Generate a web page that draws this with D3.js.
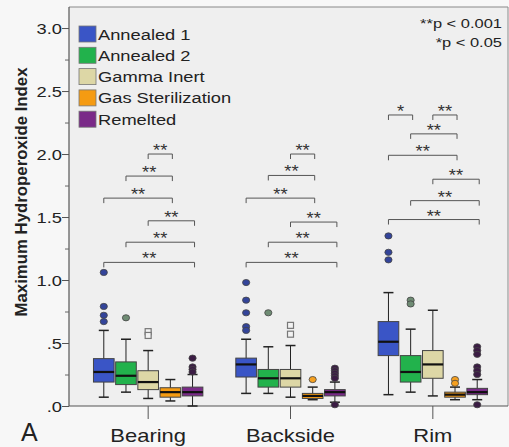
<!DOCTYPE html>
<html><head><meta charset="utf-8">
<script src="https://cdn.jsdelivr.net/npm/d3@7"></script>
<style>
html,body{margin:0;padding:0;background:#f7f7f7;}
svg{display:block;font-family:"Liberation Sans",Arial,sans-serif;}
</style></head>
<body>
<svg id="chart" width="509" height="447"></svg>
<script>
// ---- data ----
const categories = ["Bearing", "Backside", "Rim"];
const seriesNames = ["Annealed 1", "Annealed 2", "Gamma Inert", "Gas Sterilization", "Remelted"];
const seriesColors = ["#3a55c6", "#22b24c", "#ddd7a6", "#f59b12", "#7a2a88"];
const outlierFills = ["#33449a", "#6f8c74", "#eeeeee", "#f5a020", "#3b1c44"];
// stats per category: [whiskerLow, q1, median, q3, whiskerHigh]
const annealed1 = [[0.07, 0.19, 0.27, 0.376, 0.60], [0.10, 0.23, 0.33, 0.38, 0.53], [0.09, 0.40, 0.51, 0.67, 0.90]];
const annealed2 = [[0.11, 0.17, 0.24, 0.35, 0.53], [0.10, 0.15, 0.22, 0.29, 0.47], [0.11, 0.19, 0.27, 0.40, 0.61]];
const gammaInert = [[0.06, 0.13, 0.19, 0.28, 0.44], [0.07, 0.15, 0.22, 0.29, 0.48], [0.08, 0.22, 0.33, 0.44, 0.76]];
const gasSterilization = [[0.04, 0.07, 0.11, 0.145, 0.21], [0.05, 0.06, 0.08, 0.10, 0.15], [0.05, 0.07, 0.09, 0.11, 0.15]];
const remelted = [[0.0, 0.08, 0.11, 0.15, 0.25], [0.03, 0.08, 0.11, 0.13, 0.19], [0.05, 0.09, 0.11, 0.14, 0.21]];
// outliers per category
const annealed1Out = [[1.06, 0.79, 0.72, 0.67], [0.98, 0.84, 0.74, 0.63, 0.60], [1.35, 1.22, 1.16]];
const annealed2Out = [[0.70], [0.74], [0.84, 0.81]];
const gammaInertOut = [[0.59, 0.56], [0.64, 0.57], []];
const gasSterilizationOut = [[], [0.21], [0.21, 0.18]];
const remeltedOut = [[0.38, 0.31, 0.29, 0.27], [0.30, 0.28, 0.26, 0.24, 0.22, 0.01], [0.47, 0.44, 0.41, 0.31, 0.28, 0.25, 0.01]];
// significance brackets: [category, fromSeries, toSeries, level, label]
const bracketsBearing = [[0, 2, 3, 2.00, "**"], [0, 1, 3, 1.825, "**"], [0, 0, 3, 1.65, "**"], [0, 2, 4, 1.47, "**"], [0, 1, 4, 1.30, "**"], [0, 0, 4, 1.14, "**"]];
const bracketsBackside = [[1, 2, 3, 2.00, "**"], [1, 1, 3, 1.83, "**"], [1, 0, 3, 1.65, "**"], [1, 2, 4, 1.46, "**"], [1, 1, 4, 1.30, "**"], [1, 0, 4, 1.14, "**"]];
const bracketsRim = [[2, 0, 1, 2.31, "*"], [2, 2, 3, 2.31, "**"], [2, 1, 3, 2.16, "**"], [2, 0, 3, 1.99, "**"], [2, 2, 4, 1.80, "**"], [2, 1, 4, 1.63, "**"], [2, 0, 4, 1.48, "**"]];
const yTickValues = [0, 0.5, 1.0, 1.5, 2.0, 2.5, 3.0];
const yTickLabels = [".0", ".5", "1.0", "1.5", "2.0", "2.5", "3.0"];
const yMinorTicks = [0.25, 0.75, 1.25, 1.75, 2.25, 2.75];
const yTitle = "Maximum Hydroperoxide Index";
const noteLines = ["**p <  0.001", "*p < 0.05"];
const panelLetter = "A";

const stats = [annealed1, annealed2, gammaInert, gasSterilization, remelted];
const outs = [annealed1Out, annealed2Out, gammaInertOut, gasSterilizationOut, remeltedOut];
const brackets = bracketsBearing.concat(bracketsBackside, bracketsRim);

// ---- layout ----
const svg = d3.select("#chart");
const plotL = 69, plotR = 508, plotT = 7, plotB = 406;
const SX = 1.22; // horizontal text stretch of the reference

const y = d3.scaleLinear().domain([0, 3.167]).range([plotB, plotT]);
const x = d3.scaleBand().domain(categories).range([77, 504]).padding(0);
const xs = d3.scaleBand().domain(d3.range(seriesNames.length)).range([-56.25, 56.25]).padding(0.07);
const cx = (ci, si) => x(categories[ci]) + x.bandwidth() / 2 + xs(si) + xs.bandwidth() / 2;

function stext(g, tx, ty, str, size, anchor, opts = {}) {
  return g.append("text")
    .attr("transform", `translate(${tx},${ty}) scale(${opts.sx || SX},1)`)
    .attr("text-anchor", anchor)
    .attr("font-size", size)
    .attr("font-weight", opts.weight || "normal")
    .attr("fill", opts.fill || "#222")
    .text(str);
}

// plot background
svg.append("rect").attr("x", plotL).attr("y", plotT).attr("width", plotR - plotL).attr("height", plotB - plotT)
  .attr("fill", "#efefef");
svg.append("line").attr("x1", plotL).attr("x2", plotR).attr("y1", plotT).attr("y2", plotT)
  .attr("stroke", "#8a8a8a").attr("stroke-width", 1.2);
svg.append("line").attr("x1", plotR).attr("x2", plotR).attr("y1", plotT).attr("y2", plotB)
  .attr("stroke", "#8a8a8a").attr("stroke-width", 1);

// y axis
const yAxis = svg.append("g").attr("transform", `translate(${plotL},0)`)
  .call(d3.axisLeft(y).tickValues(yTickValues).tickSize(7).tickFormat(() => ""));
yAxis.select(".domain").attr("stroke", "#555").attr("stroke-width", 1.2).attr("d", `M0,${plotT}V${plotB}`);
yAxis.selectAll(".tick line").attr("stroke", "#555");
svg.append("g").attr("transform", `translate(${plotL},0)`)
  .call(d3.axisLeft(y).tickValues(yMinorTicks).tickSize(4).tickFormat(""))
  .call(g => g.select(".domain").remove())
  .selectAll(".tick line").attr("stroke", "#666");
yTickValues.forEach((v, i) => {
  stext(svg, 62, y(v) + 5.5, yTickLabels[i], 15, "end");
});

// y title
svg.append("text")
  .attr("transform", `translate(27,192) rotate(-90)`)
  .attr("text-anchor", "middle").attr("font-size", 16.8).attr("font-weight", "bold").attr("fill", "#222")
  .text(yTitle);

// x axis
svg.append("line").attr("x1", plotL).attr("x2", plotR).attr("y1", plotB).attr("y2", plotB)
  .attr("stroke", "#555").attr("stroke-width", 1.2);
const xAxis = svg.append("g").attr("transform", `translate(0,${plotB})`)
  .call(d3.axisBottom(x).tickSize(13).tickFormat(""));
xAxis.select(".domain").remove();
xAxis.selectAll(".tick line").attr("stroke", "#555");
categories.forEach(c => {
  stext(svg, x(c) + x.bandwidth() / 2, 442, c, 18, "middle");
});
stext(svg, 21, 441, panelLetter, 25, "start", { sx: 1.0 });

// brackets
const bg = svg.append("g");
brackets.forEach(b => {
  const [ci, a, z, lv, lab] = b;
  const x1 = cx(ci, a), x2 = cx(ci, z) + 2, yy = y(lv);
  bg.append("path").attr("d", `M${x1},${yy + 5}V${yy}H${x2}V${yy + 5}`)
    .attr("fill", "none").attr("stroke", "#555").attr("stroke-width", 1);
  stext(bg, (x1 + x2) / 2, yy + 2, lab, 16, "middle", { fill: "#333", sx: 1.15 });
});

// boxes
const boxW = xs.bandwidth();
stats.forEach((sArr, si) => {
  sArr.forEach((st, ci) => {
    const [lo, q1, med, q3, hi] = st;
    const c = cx(ci, si);
    const g = svg.append("g");
    g.append("line").attr("x1", c).attr("x2", c).attr("y1", y(hi)).attr("y2", y(lo)).attr("stroke", "#222");
    g.append("line").attr("x1", c - 5).attr("x2", c + 5).attr("y1", y(hi)).attr("y2", y(hi)).attr("stroke", "#222").attr("stroke-width", 1.5);
    g.append("line").attr("x1", c - 5).attr("x2", c + 5).attr("y1", y(lo)).attr("y2", y(lo)).attr("stroke", "#222").attr("stroke-width", 1.5);
    g.append("rect").attr("x", c - boxW / 2).attr("y", y(q3)).attr("width", boxW).attr("height", y(q1) - y(q3))
      .attr("fill", seriesColors[si]).attr("stroke", "#444").attr("stroke-width", 1);
    g.append("line").attr("x1", c - boxW / 2).attr("x2", c + boxW / 2).attr("y1", y(med)).attr("y2", y(med))
      .attr("stroke", "#111").attr("stroke-width", 2.2);
    outs[si][ci].forEach(v => {
      if (si === 2) {
        g.append("rect").attr("x", c - 3).attr("y", y(v) - 3).attr("width", 6).attr("height", 6)
          .attr("fill", "#f2f2f2").attr("stroke", "#777").attr("stroke-width", 1.2);
      } else {
        g.append("ellipse").attr("cx", c).attr("cy", y(v)).attr("rx", 3.6).attr("ry", 3.1)
          .attr("fill", outlierFills[si]).attr("stroke", "#444").attr("stroke-width", 0.8);
      }
    });
  });
});

// legend
const lg = svg.append("g");
seriesNames.forEach((n, i) => {
  const cy = 34 + i * 21.3;
  lg.append("rect").attr("x", 79).attr("y", cy - 8).attr("width", 17).attr("height", 16)
    .attr("fill", seriesColors[i]).attr("stroke", "#777").attr("stroke-width", 0.8);
  stext(lg, 98, cy + 5.5, n, 15, "start");
});

// note
noteLines.forEach((t, i) => {
  stext(svg, 502, 28 + i * 19, t, 13.5, "end");
});
</script>
</body></html>
